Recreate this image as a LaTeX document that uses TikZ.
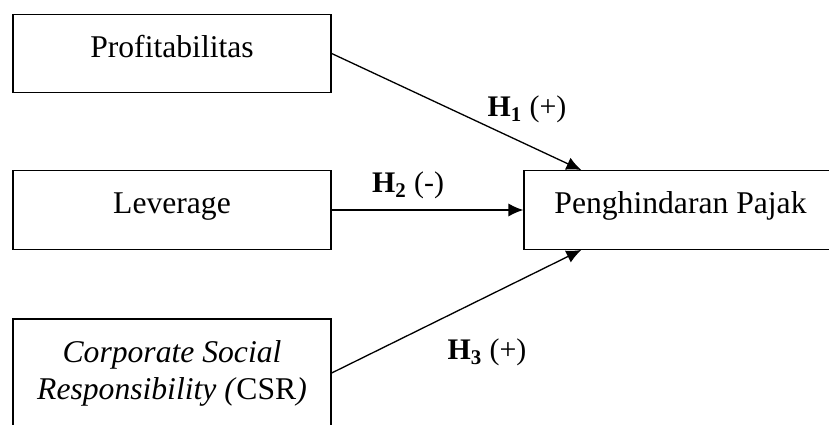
\documentclass[tikz,border=0pt]{standalone}
\usepackage{fontspec}
\setmainfont{Liberation Serif}
\usetikzlibrary{arrows.meta}
\newcommand{\hyp}[2]{\textbf{H}\textsubscript{\textbf{#1}} #2}

\begin{document}
\begin{tikzpicture}[
  varbox/.style={draw, line width=0.75pt, minimum width=6.36cm, minimum height=1.57cm,
    inner sep=0pt, font=\fontsize{18}{21}\selectfont},
  oneline/.style={text height=12pt, text depth=8pt},
  link/.style={line width=0.75pt, -{Latex[length=8.5pt,width=7.5pt]}},
  hyplabel/.style={font=\fontsize{17}{20}\selectfont, anchor=base}
]
  \clip (0,0) rectangle (16.58,-8.5);
  \node[varbox, oneline] (prof) at (3.44,-1.07) {Profitabilitas};
  \node[varbox, oneline] (lev) at (3.44,-4.2) {Leverage};
  \node[varbox, minimum height=2.16cm, align=center] (csr) at (3.44,-7.46)
    {\textit{Corporate Social}\\\textit{Responsibility (}CSR\textit{)}};
  \node[varbox, oneline, minimum width=6.26cm] (pajak) at (13.61,-4.2) {Penghindaran Pajak};
  % arrow ends on the border of the target box
  \coordinate (h1end) at ([xshift=1.16cm]pajak.north west);
  \coordinate (h3end) at ([xshift=1.16cm]pajak.south west);
  \draw[link] (prof.east) -- (h1end);
  \draw[link] (lev) -- (pajak);
  \draw[link] (csr.east) -- (h3end);
  \node[hyplabel] (h1) at (10.54,-2.34) {\hyp{1}{(+)}};
  \node[hyplabel] (h2) at (8.16,-3.86) {\hyp{2}{(-)}};
  \node[hyplabel] (h3) at (9.74,-7.2) {\hyp{3}{(+)}};
\end{tikzpicture}
\end{document}
